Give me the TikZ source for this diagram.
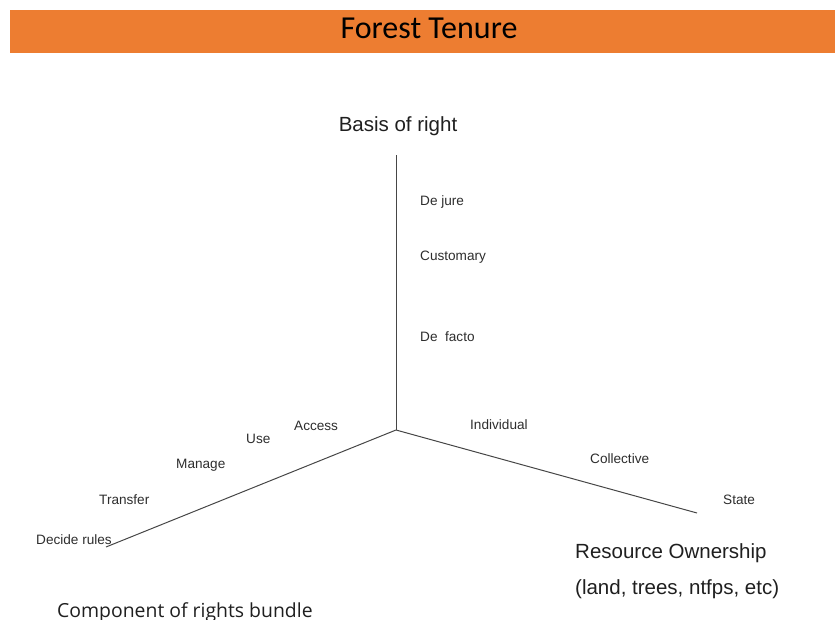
\documentclass[tikz,border=0pt]{standalone}
\usepackage{fontspec}
\setmainfont{Liberation Sans}
\newfontfamily\calibri{Carlito}
\newfontfamily\segoe{Open Sans}
\definecolor{TenureOrange}{RGB}{237,125,49}
\definecolor{AxisGrey}   {RGB}{70,70,70}
\definecolor{LabelGrey}  {RGB}{45,45,45}
\usetikzlibrary{positioning}

\tikzset{
  valuelbl/.style={anchor=base west,inner sep=0pt,text=LabelGrey,
                   font=\fontsize{13.6}{16}\selectfont},
  axislbl/.style={inner sep=0pt,text=black!88,
                  font=\fontsize{20.5}{24}\selectfont},
  axisline/.style={AxisGrey,line width=1pt}
}

\begin{document}
\begin{tikzpicture}[x=1pt,y=-1pt]
  \useasboundingbox (0,0) rectangle (835,620);
  % Title bar
  \fill[TenureOrange] (10,10) rectangle (835,53);
  \node[anchor=base,inner sep=0pt,font=\calibri\fontsize{32}{38}\selectfont]
       (title) at (429,39) {Forest Tenure};
  % Axes: origin and the three end points
  \coordinate (O)     at (396,430);
  \coordinate (top)   at (396,155);
  \coordinate (left)  at (106,547);
  \coordinate (right) at (697,513);
  \draw[axisline] (O) -- (top);
  \draw[axisline] (O) -- (left);
  \draw[axisline] (O) -- (right);
  % Axis titles
  \node[axislbl,anchor=base] (basis) at (398,132) {Basis of right};
  \node[axislbl,anchor=base west] (owner) at (575,558) {Resource Ownership};
  \node[axislbl,anchor=base west] (ownerex) at (575,594)
       {(land, trees, ntfps, etc)};
  \node[anchor=base west,inner sep=0pt,text=black!88,
        font=\segoe\fontsize{19.4}{23}\selectfont]
       (bundle) at (57,617) {Component of rights bundle};
  % Basis of right values
  \node[valuelbl] (dejure)   at (420,206) {De jure};
  \node[valuelbl] (custom)   at (420,261) {Customary};
  \node[valuelbl] (defacto)  at (420,341) {De\ \ facto};
  % Rights bundle values
  \node[valuelbl] (access)   at (294,430) {Access};
  \node[valuelbl] (use)      at (246,443) {Use};
  \node[valuelbl] (manage)   at (176,468) {Manage};
  \node[valuelbl] (transfer) at (99,504)  {Transfer};
  \node[valuelbl] (decide)   at (36,544)  {Decide rules};
  % Ownership values
  \node[valuelbl] (indiv)    at (470,429) {Individual};
  \node[valuelbl] (collect)  at (590,463) {Collective};
  \node[valuelbl] (state)    at (723,504) {State};
\end{tikzpicture}
\end{document}
